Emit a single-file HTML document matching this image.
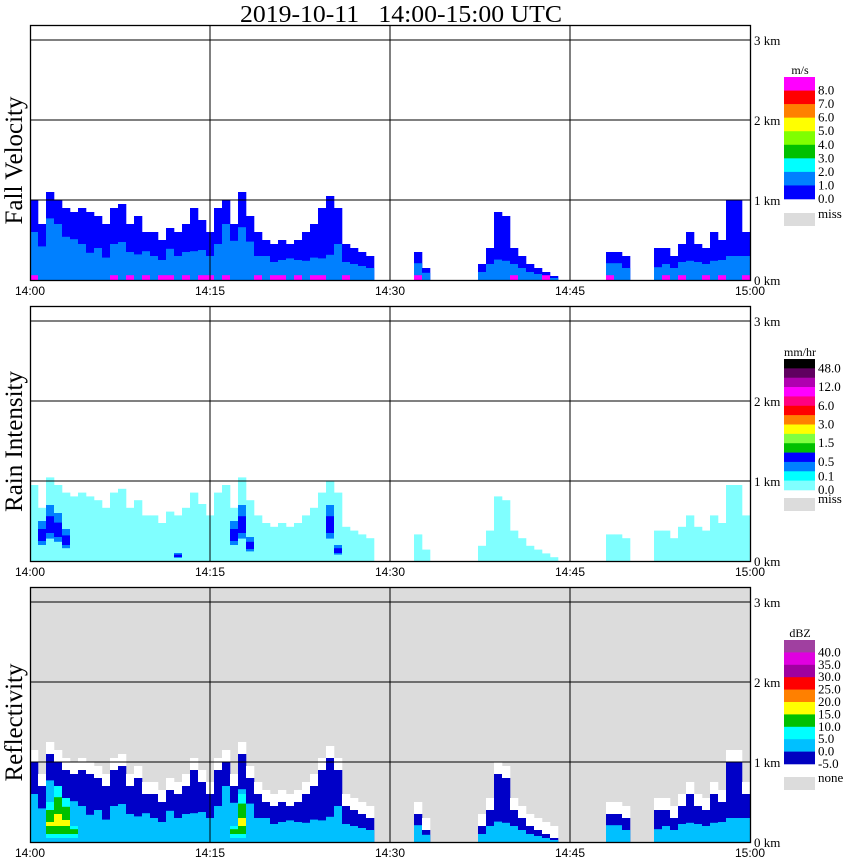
<!DOCTYPE html>
<html><head><meta charset="utf-8"><style>
body{margin:0;background:#fff;}
svg{display:block;}
</style></head><body>
<svg id="chart" width="850" height="868" xmlns="http://www.w3.org/2000/svg">
<text x="401" y="22" text-anchor="middle" font-family="Liberation Serif, serif" font-size="24" textLength="322" lengthAdjust="spacingAndGlyphs">2019-10-11&#160;&#160;&#160;14:00-15:00&#160;UTC</text>
<g id="panels"></g>
<g id="legends"></g>
</svg>
<script>
// time columns: 90 columns of 40 s between 14:00 and 15:00
const timeTicks = ["14:00","14:15","14:30","14:45","15:00"];
const kmTicks = ["0 km","1 km","2 km","3 km"];
// echo top height (km) per column
const echoTops = [1.0,0.7,1.1,1.0,0.9,0.85,0.9,0.85,0.8,0.7,0.9,0.95,0.7,0.8,0.6,0.6,0.5,0.65,0.6,0.7,0.9,0.75,0.6,
  0.9,1.0,0.7,1.1,0.8,0.6,0.5,0.45,0.5,0.45,0.5,0.6,0.7,0.9,1.05,0.9,0.45,0.4,0.35,0.3,0,0,
  0,0,0,0.35,0.15,0,0,0,0,0,0,0.2,0.4,0.85,0.8,0.4,0.3,0.2,0.15,0.1,0.05,0,0,
  0,0,0,0,0.35,0.35,0.3,0,0,0,0.4,0.4,0.3,0.45,0.6,0.45,0.4,0.6,0.5,1.0,1.0,0.6];
// fraction of echo column with faster (1-2 m/s) fall velocity
const fastCore = [0.6,0.6,0.7,0.7,0.6,0.6,0.5,0.4,0.5,0.4,0.5,0.5,0.5,0.4,0.6,0.5,0.5,0.6,0.5,0.5,0.4,0.5,0.5,
  0.5,0.7,0.7,0.6,0.6,0.5,0.6,0.5,0.5,0.6,0.5,0.4,0.4,0.3,0.3,0.5,0.5,0.5,0.5,0.5,0,0,
  0,0,0,0.6,0.6,0,0,0,0,0,0,0.5,0.5,0.3,0.3,0.5,0.5,0.5,0.5,0.5,0.5,0,0,
  0,0,0,0,0.6,0.6,0.5,0,0,0,0.4,0.5,0.5,0.5,0.4,0.5,0.5,0.4,0.5,0.3,0.3,0.5];
// columns with >8 m/s pixels near ground (1 = present)
const fastBase = [1,0,0,0,0,0,0,0,0,0,1,0,1,0,1,0,1,1,0,1,0,1,1,
  0,1,0,0,0,1,0,1,1,0,1,0,1,1,0,0,1,0,0,0,0,0,
  0,0,0,1,0,0,0,0,0,0,0,0,0,0,0,1,0,0,0,1,0,0,0,
  0,0,0,0,1,0,0,0,0,0,0,1,0,1,0,0,1,0,1,0,0,1];
// rain core (mm/hr > 0.5) height in km
const rainCore = [0,0.5,0.7,0.6,0.4,0,0,0,0,0,0,0,0,0,0,0,0,0,0.1,0,0,0,0,
  0,0,0.5,0.7,0.3,0,0,0,0,0,0,0,0,0,0.7,0.2,0,0,0,0,0,0,
  0,0,0,0,0,0,0,0,0,0,0,0,0,0,0,0,0,0,0,0,0,0,0,
  0,0,0,0,0,0,0,0,0,0,0,0,0,0,0,0,0,0,0,0,0,0];
// reflectivity >15 dBZ core height km
const dbzCore = [0,0,0.5,0.7,0.55,0.2,0,0,0,0,0,0,0,0,0,0,0,0,0,0,0,0,0,
  0,0,0.2,0.6,0,0,0,0,0,0,0,0,0,0,0,0,0,0,0,0,0,0,
  0,0,0,0,0,0,0,0,0,0,0,0,0,0,0,0,0,0,0,0,0,0,0,
  0,0,0,0,0,0,0,0,0,0,0,0,0,0,0,0,0,0,0,0,0,0];

const NS="http://www.w3.org/2000/svg";
const X0=30,X1=750,PX_KM=80;
const panels=[{top:25,base:280,title:"Fall Velocity",bg:"#fff"},{top:306,base:561,title:"Rain Intensity",bg:"#fff"},{top:587,base:842,title:"Reflectivity",bg:"#dcdcdc"}];
const colW=(X1-X0)/echoTops.length;
function xCol(i){return X0+i*colW;}
function yKm(p,km){return p.base-km*PX_KM;}
function el(tag,attrs,parent){const e=document.createElementNS(NS,tag);for(const k in attrs)e.setAttribute(k,attrs[k]);parent.appendChild(e);return e;}
const G=document.getElementById('panels');
function bar(p,i,km0,km1,fill,g){
  if(km1<=km0)return;
  const r=el('rect',{x:xCol(i),y:yKm(p,km1),width:colW+0.3,height:(km1-km0)*PX_KM,fill:fill},g);
  
  
}
panels.forEach((p,pi)=>{
  const g=el('g',{},G);
  
  
  const bgr=el('rect',{x:X0,y:p.top,width:X1-X0,height:p.base-p.top,fill:p.bg},g);
  
  
  echoTops.forEach((t,i)=>{
    if(pi===0){
      bar(p,i,0,t,"#0000ff",g);
      bar(p,i,0,t*fastCore[i],"#0080ff",g);
      if(fastBase[i])bar(p,i,0,0.06,"#ff00ff",g);
    }else if(pi===1){
      bar(p,i,0,t*0.95,"#80ffff",g);
      if(rainCore[i]>0){bar(p,i,rainCore[i]*0.4,rainCore[i],"#0080ff",g);bar(p,i,rainCore[i]*0.5,rainCore[i]*0.8,"#0000ff",g);}
    }else{
      if(t>0)bar(p,i,0,t+0.15,"#ffffff",g);
      bar(p,i,0,t,"#0000c8",g);
      bar(p,i,0,t*fastCore[i],"#00c0ff",g);
      if(dbzCore[i]>0){bar(p,i,0.05,dbzCore[i],"#00ffff",g);bar(p,i,0.1,dbzCore[i]*0.8,"#00c000",g);bar(p,i,0.2,dbzCore[i]*0.5,"#ffff00",g);}
    }
  });
  for(let k=1;k<=3;k++){const l=el('line',{x1:X0,x2:X1,y1:yKm(p,k),y2:yKm(p,k),stroke:"#000","stroke-width":1},g);}
  for(let k=1;k<4;k++){const x=X0+k*(X1-X0)/4;const l=el('line',{x1:x,x2:x,y1:p.top,y2:p.base,stroke:"#000","stroke-width":1},g);}
  const fr=el('rect',{x:X0+0.5,y:p.top+0.5,width:X1-X0,height:p.base-p.top,fill:"none",stroke:"#000","stroke-width":1.3},g);
  
  kmTicks.forEach((s,k)=>{const t=el('text',{x:X1+4,y:yKm(p,k)+5,"font-family":"Liberation Serif, serif","font-size":13},g);t.textContent=s;});
  timeTicks.forEach((s,k)=>{const t=el('text',{x:X0+k*(X1-X0)/4,y:p.base+15,"text-anchor":"middle","font-family":"Liberation Sans, sans-serif","font-size":12},g);t.textContent=s;});
  const ty=(p.top+p.base)/2+8;
  const tt=el('text',{x:22,y:ty,transform:`rotate(-90 22 ${ty})`,"text-anchor":"middle","font-family":"Liberation Serif, serif","font-size":25},g);
  tt.textContent=p.title;
});
const legendUnits=["m/s","mm/hr","dBZ"];
const legendColors=[["#ff00ff","#ff0000","#ff8000","#ffff00","#80ff00","#00c000","#00ffff","#0080ff","#0000ff"],
 ["#000000","#600060","#b000b0","#ff00ff","#ff0080","#ff0000","#ff8000","#ffff00","#80ff40","#00c000","#0000ff","#0080ff","#00ffff","#80ffff"],
 ["#a040a0","#e000e0","#a000a0","#ff0000","#ff8000","#ffff00","#00c000","#00ffff","#00c0ff","#0000c0"]];
const legendLabels=[["8.0","7.0","6.0","5.0","4.0","3.0","2.0","1.0","0.0"],
 ["48.0","","12.0","","6.0","","3.0","","1.5","","0.5","","0.1","0.0"],
 ["40.0","35.0","30.0","25.0","20.0","15.0","10.0","5.0","0.0","-5.0"]];
const legendMiss=["miss","miss","none"];
const legendBox=[{y0:77,y1:199,miss:213},{y0:359,y1:490,miss:498},{y0:640,y1:764,miss:777}];
const LG=document.getElementById('legends');
legendColors.forEach((cols,li)=>{
  const b=legendBox[li];const g=el('g',{},LG);
  
  const h=(b.y1-b.y0)/cols.length;
  const u=el('text',{x:800,y:b.y0-3,"text-anchor":"middle","font-family":"Liberation Serif, serif","font-size":12},g);u.textContent=legendUnits[li];
  
  cols.forEach((c,k)=>{
    const r=el('rect',{x:784,y:b.y0+k*h,width:31,height:h+0.3,fill:c},g);
    
    const lab=legendLabels[li][k];
    if(lab){const t=el('text',{x:818,y:b.y0+(k+1)*h+(li===1&&k===12?0:4),"font-family":"Liberation Serif, serif","font-size":13},g);t.textContent=lab;}
  });
  const m=el('rect',{x:784,y:b.miss,width:31,height:13,fill:"#dcdcdc"},g);
  
  const mt=el('text',{x:818,y:b.miss+5,"font-family":"Liberation Serif, serif","font-size":13},g);mt.textContent=legendMiss[li];
  
});
</script>
</body></html>
